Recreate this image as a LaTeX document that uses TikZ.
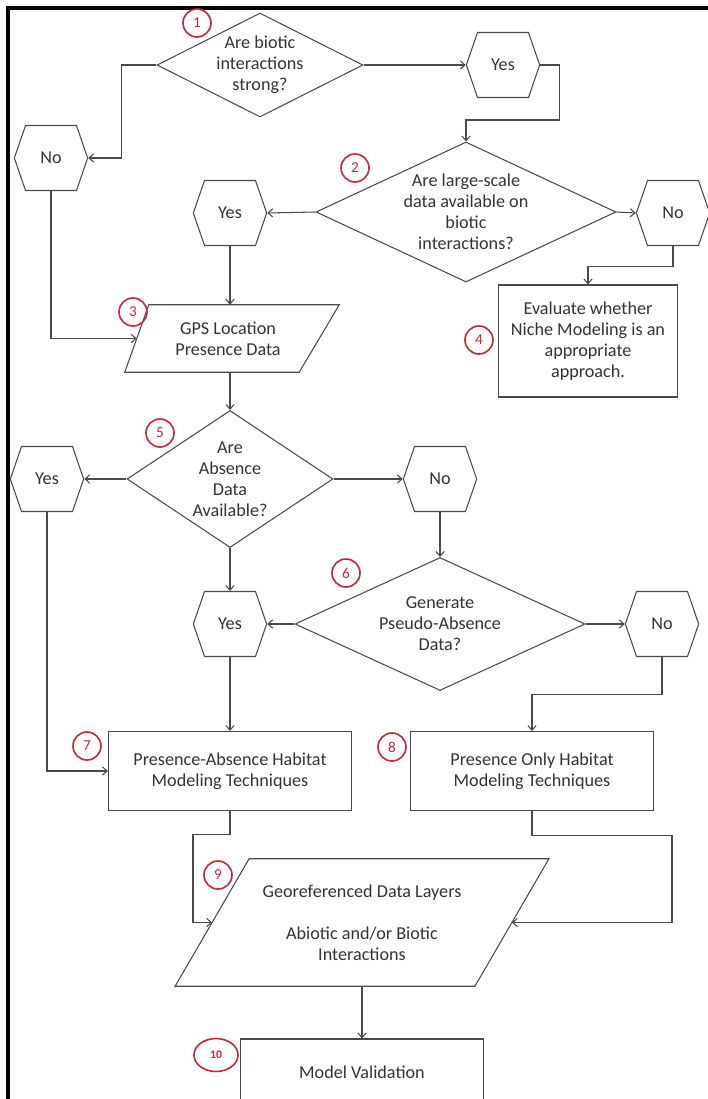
\documentclass[tikz,border=0pt]{standalone}
\usepackage{fontspec}
\setmainfont{Carlito}
\usetikzlibrary{arrows.meta, positioning, shapes.geometric, shapes.symbols, calc}
\definecolor{flowgray}{HTML}{4A4A4A}
\definecolor{flowtext}{HTML}{333333}
\definecolor{stepred}{HTML}{C8283A}

\begin{document}
\begin{tikzpicture}[
  x=0.03cm, y=-0.03cm,
  every node/.style={font=\fontsize{15.5}{18}\selectfont, text=flowtext},
  decision/.style={diamond, draw=flowgray, line width=0.9pt, inner sep=0pt, align=center},
  answer/.style={signal, signal to=west and east, signal pointer angle=142, draw=flowgray, line width=0.9pt, minimum width=2.2cm, minimum height=1.95cm, inner sep=0pt},
  datainput/.style={rectangle, align=center, inner sep=0pt},
  outline/.style={draw=flowgray, line width=0.9pt},
  process/.style={rectangle, draw=flowgray, line width=0.9pt, align=center},
  stepno/.style={circle, draw=stepred, line width=1.4pt, minimum size=0.84cm, inner sep=0pt, text=stepred, font=\fontsize{13}{15}\selectfont},
  flow/.style={-{Straight Barb[length=4pt,width=7pt]}, draw=flowgray, line width=0.9pt},
]
\useasboundingbox (0,0) rectangle (708,1099);
\clip (0,0) rectangle (708,1099);

% Frame
\draw[line width=2.6pt, black] (8,1099) -- (8,8) -- (708,8);

% Biotic interactions
\node[decision, minimum width=6.18cm, minimum height=3.12cm, aspect=2] (dbio) at (260, 65) {Are biotic\\interactions\\strong?};
\node[answer] (yesbio) at (503, 65) {Yes};
\node[answer] (nobio) at (51, 158) {No};
\node[decision, minimum width=9.0cm, minimum height=4.2cm, aspect=2.14] (dlarge) at (466, 212) {Are large-scale\\data available on\\biotic\\interactions?};
\node[answer] (yeslarge) at (230, 213) {Yes};
\node[answer] (nolarge) at (673, 213) {No};
\node[process, minimum width=5.37cm, minimum height=3.36cm] (niche) at (588, 341) {Evaluate whether\\Niche Modeling is an\\appropriate\\approach.};

% Presence and absence data
\node[datainput, minimum width=5.46cm, minimum height=2.01cm] (gps) at (228, 338.5) {GPS Location\\Presence Data};
\draw[outline] ($(gps.south west)+(-12,0)$) -- ($(gps.north west)+(12,0)$) -- ($(gps.north east)+(20,0)$) -- ($(gps.south east)+(-20,0)$) -- cycle;
\node[decision, minimum width=6.18cm, minimum height=4.11cm, aspect=1.5] (dabs) at (230, 479) {Are\\Absence\\Data\\Available?};
\node[answer] (yesabs) at (47, 479) {Yes};
\node[answer] (noabs) at (440, 479) {No};
\node[decision, minimum width=8.7cm, minimum height=3.99cm, aspect=2.18] (dpseudo) at (440, 624) {Generate\\Pseudo-Absence\\Data?};
\node[answer] (yespseudo) at (230, 624) {Yes};
\node[answer] (nopseudo) at (662, 624) {No};

% Modeling techniques
\node[process, minimum width=7.29cm, minimum height=2.37cm] (pa) at (230, 771) {Presence-Absence Habitat\\Modeling Techniques};
\node[process, minimum width=7.29cm, minimum height=2.37cm] (po) at (532, 771) {Presence Only Habitat\\Modeling Techniques};
\node[datainput, minimum width=8.98cm, minimum height=3.81cm] (layers) at (362, 922.5) {Georeferenced Data Layers\\[18pt]Abiotic and/or Biotic\\Interactions};
\draw[outline] ($(layers.south west)+(-37,0)$) -- ($(layers.north west)+(37,0)$) -- ($(layers.north east)+(37,0)$) -- ($(layers.south east)+(-37,0)$) -- cycle;
\node[process, minimum width=7.29cm, minimum height=1.98cm] (valid) at (362, 1072) {Model Validation};

% Step numbers
\node[stepno] (s1) at (197, 23) {1};
\node[stepno] (s2) at (355, 168) {2};
\node[stepno] (s3) at (133, 312) {3};
\node[stepno] (s4) at (479, 340) {4};
\node[stepno] (s5) at (160, 433) {5};
\node[stepno] (s6) at (346, 573) {6};
\node[stepno] (s7) at (87, 746) {7};
\node[stepno] (s8) at (392, 747) {8};
\node[stepno] (s9) at (218, 875) {9};
\node[stepno, ellipse, minimum width=1.32cm, minimum height=0.99cm, font=\fontsize{10}{12}\selectfont\bfseries] (s10) at (216, 1055) {10};

\draw[flow] (dbio.east) -- (yesbio.west);
\draw[flow] (dbio.west) -- ++(-35,0) |- (nobio.east);
\draw[flow] (yesbio.east) -- ++(19,0) -- ++(0,55) -| (dlarge.north);
\draw[flow] (dlarge.west) -- (yeslarge.east);
\draw[flow] (dlarge.east) -- (nolarge.west);
\draw[flow] (nolarge.south) -- ++(0,20) -| (niche.north);
\draw[flow] (nobio.south) |- (gps.west);
\draw[flow] (yeslarge.south) -- (yeslarge.south |- gps.north);
\draw[flow] (gps.south -| dabs.north) -- (dabs.north);
\draw[flow] (dabs.west) -- (yesabs.east);
\draw[flow] (dabs.east) -- (noabs.west);
\draw[flow] (dabs.south) -- (yespseudo.north);
\draw[flow] (noabs.south) -- (dpseudo.north);
\draw[flow] (dpseudo.west) -- (yespseudo.east);
\draw[flow] (dpseudo.east) -- (nopseudo.west);
\draw[flow] (yesabs.south) |- (pa.west);
\draw[flow] (yespseudo.south) -- (pa.north);
\draw[flow] (nopseudo.south) -- ++(0,37) -| (po.north);
\draw[flow] (pa.south) -- ++(0,23) -- ++(-37,0) |- (layers.west);
\draw[flow] (po.south) -- ++(0,24) -- ++(140,0) |- (layers.east);
\draw[flow] (layers.south) -- (valid.north);

\end{tikzpicture}
\end{document}
